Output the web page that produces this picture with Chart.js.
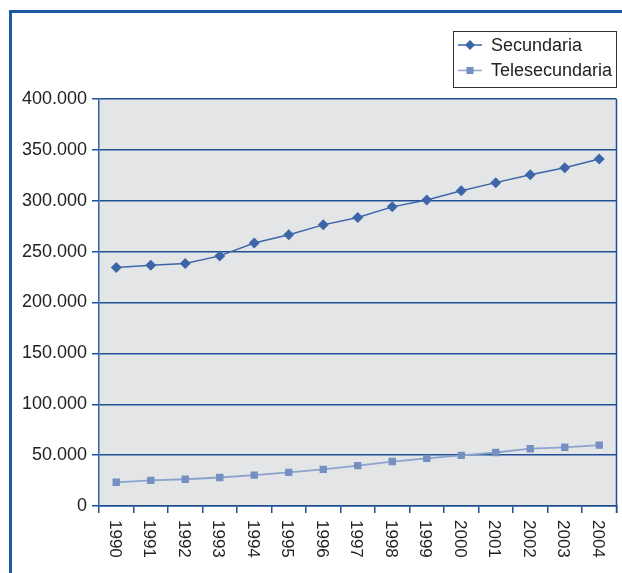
<!DOCTYPE html>
<html>
<head>
<meta charset="utf-8">
<script src="https://cdn.jsdelivr.net/npm/chart.js@4/dist/chart.umd.min.js"></script>
<style>
  html, body { margin: 0; padding: 0; background: #fff; }
  #wrap { position: relative; width: 622px; height: 573px; overflow: hidden; }
  #frame {
    position: absolute; left: 9px; top: 10px; width: 640px; height: 600px;
    border-top: 3px solid #1d58a3; border-left: 3px solid #1d58a3;
    box-sizing: border-box; pointer-events: none;
  }
  canvas { position: absolute; left: 0; top: 0; }
</style>
</head>
<body>
<div id="wrap">
  <canvas id="chart" width="622" height="573"></canvas>
  <div id="frame"></div>
</div>
<script>
// Datos
const years = ['1990', '1991', '1992', '1993', '1994', '1995', '1996', '1997',
  '1998', '1999', '2000', '2001', '2002', '2003', '2004'];
const secundaria = [234500, 236500, 238300, 245800, 258400, 266500, 276300, 283500,
  294000, 300800, 309800, 317800, 325500, 332500, 341000];
const telesecundaria = [23300, 25200, 26300, 28000, 30300, 33100, 36000, 39700,
  43700, 46800, 49800, 52600, 56300, 57700, 59800];
const seriesNames = ['Secundaria', 'Telesecundaria'];

const FONT = 'Arial, "Liberation Sans", sans-serif';
const GRID = '#1f4f95';

function fmt(v) {
  return String(v).replace(/\B(?=(\d{3})+(?!\d))/g, '.');
}

function drawMarker(ctx, style, x, y, r, color) {
  ctx.fillStyle = color;
  ctx.beginPath();
  if (style === 'rectRot') {
    ctx.moveTo(x, y - r); ctx.lineTo(x + r, y); ctx.lineTo(x, y + r); ctx.lineTo(x - r, y);
    ctx.closePath();
  } else {
    const s = r * Math.SQRT1_2;
    ctx.rect(x - s, y - s, 2 * s, 2 * s);
  }
  ctx.fill();
}

// Fondo del área, borde derecho, etiquetas X giradas y leyenda
const decor = {
  id: 'decor',
  beforeDraw(chart) {
    const { ctx, chartArea: a } = chart;
    ctx.save();
    ctx.fillStyle = '#e4e5e7';
    ctx.fillRect(a.left, a.top, a.right - a.left, a.bottom - a.top);
    ctx.restore();
  },
  afterDraw(chart) {
    const { ctx, chartArea: a } = chart;
    const xs = chart.scales.x;
    ctx.save();
    // borde derecho
    ctx.strokeStyle = GRID;
    ctx.lineWidth = 1.5;
    ctx.beginPath();
    ctx.moveTo(a.right, a.top);
    ctx.lineTo(a.right, a.bottom + 7);
    ctx.stroke();

    // etiquetas de años (giradas 90° horario)
    ctx.fillStyle = '#222';
    ctx.font = '17px ' + FONT;
    ctx.textAlign = 'left';
    ctx.textBaseline = 'middle';
    years.forEach((lab, i) => {
      const x = xs.getPixelForValue(i);
      ctx.save();
      ctx.translate(x - 2, a.bottom + 14);
      ctx.rotate(Math.PI / 2);
      ctx.fillText(lab, 0, 0);
      ctx.restore();
    });

    // leyenda
    const lx = 453.5, ly = 31.5, lw = 163, lh = 56;
    ctx.fillStyle = '#fff';
    ctx.fillRect(lx, ly, lw, lh);
    ctx.strokeStyle = '#333';
    ctx.lineWidth = 1;
    ctx.strokeRect(lx, ly, lw, lh);
    chart.data.datasets.forEach((ds, i) => {
      const y = 45 + i * 25.5;
      ctx.strokeStyle = ds.borderColor;
      ctx.lineWidth = 1.5;
      ctx.beginPath();
      ctx.moveTo(458, y);
      ctx.lineTo(482, y);
      ctx.stroke();
      drawMarker(ctx, ds.pointStyle, 470, y, 5, ds.pointBackgroundColor);
      ctx.fillStyle = '#222';
      ctx.font = '18px ' + FONT;
      ctx.textAlign = 'left';
      ctx.textBaseline = 'middle';
      ctx.fillText(ds.label, 491, y + 1);
    });
    ctx.restore();
  }
};

new Chart(document.getElementById('chart'), {
  type: 'line',
  data: {
    labels: years,
    datasets: [
      {
        label: seriesNames[0],
        data: secundaria,
        borderColor: '#3d66a8',
        backgroundColor: '#3d66a8',
        pointBackgroundColor: '#3d66a8',
        pointBorderWidth: 0,
        pointStyle: 'rectRot',
        pointRadius: 5.5,
        borderWidth: 1.5,
        tension: 0
      },
      {
        label: seriesNames[1],
        data: telesecundaria,
        borderColor: '#8ca3cd',
        backgroundColor: '#748fc0',
        pointBackgroundColor: '#748fc0',
        pointBorderWidth: 0,
        pointStyle: 'rect',
        pointRadius: 5.2,
        borderWidth: 1.8,
        tension: 0
      }
    ]
  },
  options: {
    responsive: false,
    animation: false,
    layout: { padding: { left: 0, top: 99, right: 4, bottom: 0 } },
    plugins: { legend: { display: false }, tooltip: { enabled: false } },
    scales: {
      x: {
        type: 'category',
        offset: true,
        grid: { offset: true, drawOnChartArea: false, drawTicks: true, tickLength: 7, color: GRID, lineWidth: 1.5 },
        border: { display: true, color: GRID, width: 1.5 },
        ticks: { display: false },
        afterFit(scale) { scale.height = 67; }
      },
      y: {
        min: 0,
        max: 400000,
        grid: { color: GRID, lineWidth: 1.5, tickLength: 7, tickColor: GRID },
        border: { display: true, color: '#2e63ad', width: 1.5 },
        ticks: {
          stepSize: 50000,
          padding: 5,
          color: '#222',
          font: { family: FONT, size: 18 },
          callback: v => fmt(v)
        },
        afterFit(scale) { scale.width = 99; }
      }
    }
  },
  plugins: [decor]
});
</script>
</body>
</html>
